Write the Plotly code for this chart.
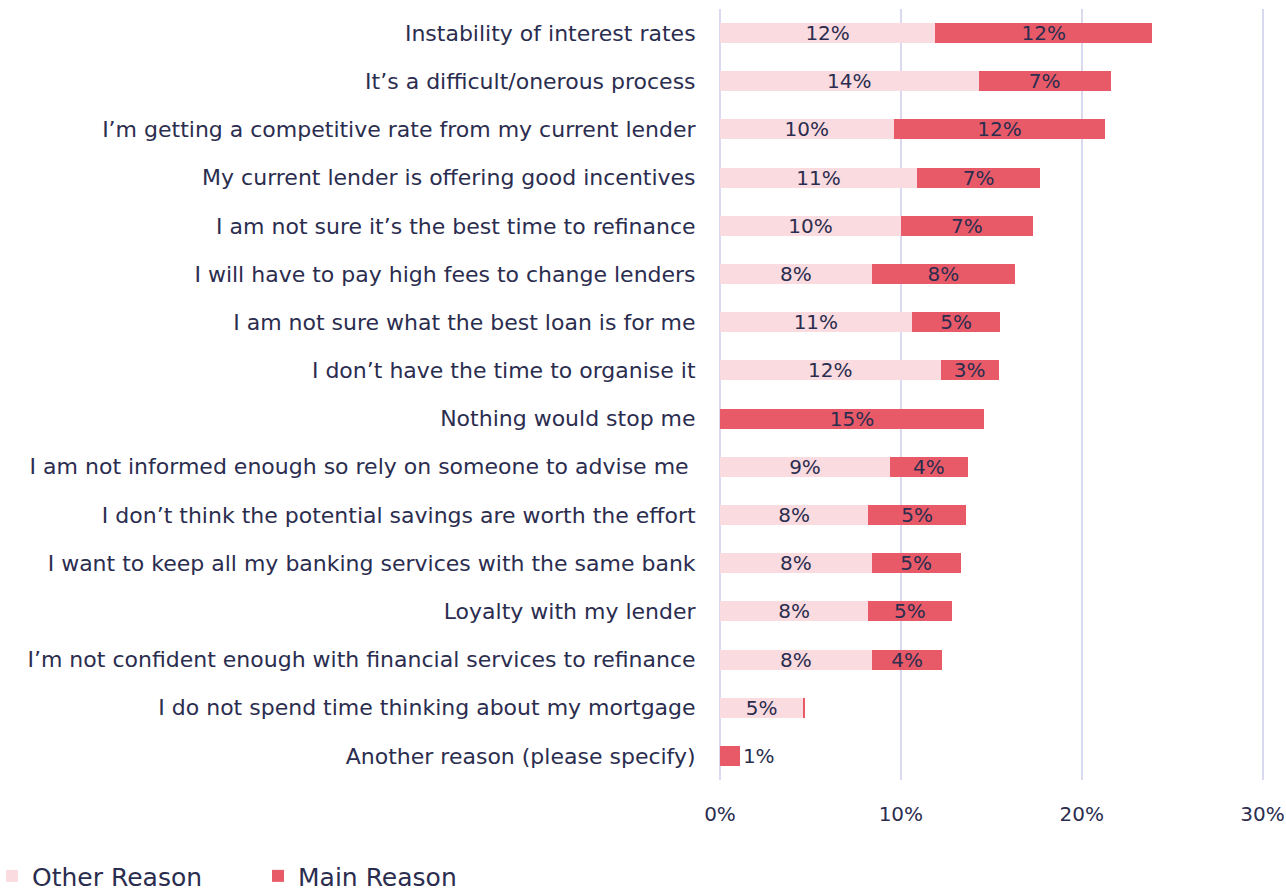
import plotly.graph_objects as go

reasons = [
    "Instability of interest rates",
    "It’s a difficult/onerous process",
    "I’m getting a competitive rate from my current lender",
    "My current lender is offering good incentives",
    "I am not sure it’s the best time to refinance",
    "I will have to pay high fees to change lenders",
    "I am not sure what the best loan is for me",
    "I don’t have the time to organise it",
    "Nothing would stop me",
    "I am not informed enough so rely on someone to advise me ",
    "I don’t think the potential savings are worth the effort",
    "I want to keep all my banking services with the same bank",
    "Loyalty with my lender",
    "I’m not confident enough with financial services to refinance",
    "I do not spend time thinking about my mortgage",
    "Another reason (please specify)",
]
other_reason = [11.9, 14.3, 9.6, 10.9, 10.0, 8.4, 10.6, 12.2, 0.0, 9.4, 8.2, 8.4, 8.2, 8.4, 4.6, 0.0]
main_reason = [12.0, 7.3, 11.7, 6.8, 7.3, 7.9, 4.9, 3.2, 14.6, 4.3, 5.4, 4.9, 4.6, 3.9, 0.1, 1.1]

ink = "#2b2d4f"
font_family = "'DejaVu Sans', sans-serif"


def labels(vals):
    return [f"{v:.0f}%" if v >= 0.5 else "" for v in vals]


fig = go.Figure()
fig.add_trace(go.Bar(
    y=reasons, x=other_reason, orientation="h", name="Other Reason",
    marker=dict(color="#fadbdf", line=dict(width=0)),
    text=labels(other_reason), textposition="inside", insidetextanchor="middle",
    constraintext="none", textfont=dict(color=ink, size=20),
))
fig.add_trace(go.Bar(
    y=reasons, x=main_reason, orientation="h", name="Main Reason",
    marker=dict(color="#e95a68", line=dict(width=0)),
    text=labels(main_reason),
    textposition=["inside"] * (len(main_reason) - 1) + ["outside"],
    insidetextanchor="middle", constraintext="none",
    textfont=dict(color=ink, size=20),
))

fig.update_layout(
    barmode="stack",
    bargap=0.585,
    width=1286, height=894,
    margin=dict(l=720, r=18, t=9, b=114),
    plot_bgcolor="white", paper_bgcolor="white",
    font=dict(family=font_family, size=20, color=ink),
    legend=dict(
        orientation="h", xref="container", yref="container",
        x=0, y=0.02, xanchor="left", yanchor="middle",
        indentation=-8,
        entrywidth=229, entrywidthmode="pixels",
        font=dict(size=25, color=ink), traceorder="normal",
    ),
)
fig.update_xaxes(
    range=[0, 30.3], tickvals=[0, 10, 20, 30], ticktext=["0%", "10%", "20%", "30%"],
    automargin=False,
    showgrid=True, gridcolor="#d9d9ef", gridwidth=1.5,
    zeroline=True, zerolinecolor="#d9d9ef", zerolinewidth=1.5,
    ticks="outside", ticklen=16, tickcolor="rgba(0,0,0,0)",
    ticklabeloverflow="allow",
    tickfont=dict(size=20, color=ink), fixedrange=True,
)
fig.update_yaxes(
    autorange="reversed", automargin=False,
    ticks="outside", ticklen=19, tickcolor="rgba(0,0,0,0)",
    tickfont=dict(size=22, color=ink),
)

# drop the default body margin so the figure fills the window
fig.write_html("out.html", config={"displayModeBar": False},
               post_script="document.body.style.margin='0';")
